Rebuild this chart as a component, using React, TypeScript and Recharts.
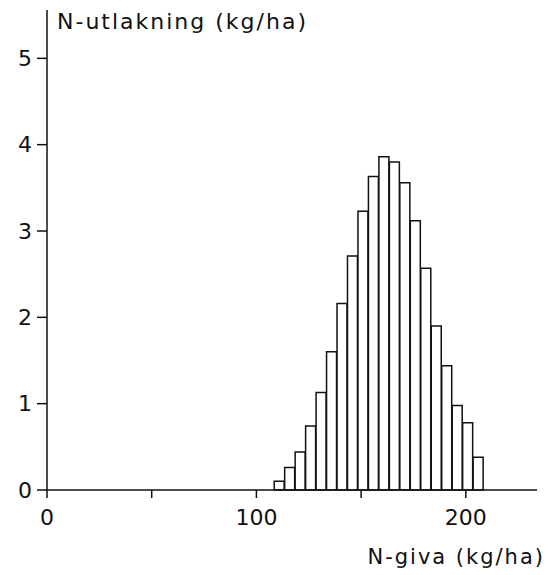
import { BarChart, Bar, XAxis, YAxis } from "recharts";

const givaBins = [111, 116, 121, 126, 131, 136, 141, 146, 151, 156, 161, 166, 171, 176, 181, 186, 191, 196, 201, 206];
const utlakning = [0.1, 0.26, 0.44, 0.74, 1.13, 1.6, 2.16, 2.71, 3.23, 3.63, 3.86, 3.8, 3.56, 3.12, 2.57, 1.9, 1.44, 0.98, 0.78, 0.38];
const xTicks = [0, 50, 100, 150, 200];
const xLabelled = [0, 100, 200];
const yTicks = [0, 1, 2, 3, 4, 5];

const font = "'DejaVu Sans', sans-serif";

export default function App() {
  const data = givaBins.map((giva, i) => ({ giva, value: utlakning[i] }));

  return (
    <div style={{ position: "relative", width: 542, height: 567, fontFamily: font, color: "#111" }}>
      <BarChart
        width={542}
        height={567}
        data={data}
        barCategoryGap={0}
        margin={{ top: 2, right: 13, bottom: 55, left: 0 }}
      >
        <XAxis
          dataKey="giva"
          type="number"
          domain={[0, 234]}
          ticks={xTicks}
          tickFormatter={(v: number) => (xLabelled.includes(v) ? String(v) : "")}
          height={30}
          tickSize={8}
          tickMargin={11}
          stroke="#111"
          strokeWidth={1.5}
          tick={{ fontSize: 22, fill: "#111", fontFamily: font }}
        />
        <YAxis
          type="number"
          domain={[0, 5.56]}
          ticks={yTicks}
          width={39}
          tickSize={10}
          tickMargin={5}
          stroke="#111"
          strokeWidth={1.5}
          tick={{ fontSize: 22, fill: "#111", fontFamily: font }}
        />
        <Bar dataKey="value" fill="#fff" stroke="#111" strokeWidth={1.5} isAnimationActive={false} />
      </BarChart>
      <div style={{ position: "absolute", left: 49, top: 1, fontSize: 22, whiteSpace: "nowrap", letterSpacing: 2 }}>
        N-utlakning (kg/ha)
      </div>
      <div style={{ position: "absolute", right: 5, top: 537, fontSize: 21, whiteSpace: "nowrap", letterSpacing: 2 }}>
        N-giva (kg/ha)
      </div>
    </div>
  );
}
